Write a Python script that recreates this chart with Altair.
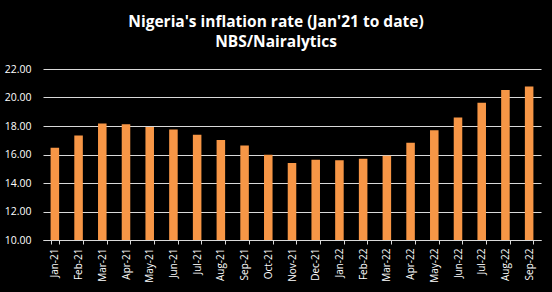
import altair as alt
import pandas as pd

months = ["Jan-21", "Feb-21", "Mar-21", "Apr-21", "May-21", "Jun-21", "Jul-21",
          "Aug-21", "Sep-21", "Oct-21", "Nov-21", "Dec-21", "Jan-22", "Feb-22",
          "Mar-22", "Apr-22", "May-22", "Jun-22", "Jul-22", "Aug-22", "Sep-22"]
inflation = [16.47, 17.33, 18.17, 18.12, 17.93, 17.75, 17.38, 17.01, 16.63, 15.99,
             15.40, 15.63, 15.60, 15.70, 15.92, 16.82, 17.71, 18.60, 19.64, 20.52, 20.77]
y_ticks = [10, 12, 14, 16, 18, 20, 22]

df = pd.DataFrame({"month": months, "rate": inflation})

font = "Open Sans"

chart = (
    alt.Chart(df)
    .mark_bar(color="#F79646", clip=True)
    .encode(
        x=alt.X("month:N", sort=months, title=None,
                scale=alt.Scale(paddingInner=0.64, paddingOuter=0.32),
                axis=alt.Axis(labelAngle=-90, labelFont=font, labelFontSize=10,
                              labelColor="#FFFFFF", labelPadding=4,
                              domainColor="#D9D9D9", tickColor="#D9D9D9",
                              tickBand="extent", tickSize=4, grid=False)),
        y=alt.Y("rate:Q", title=None,
                scale=alt.Scale(domain=[10, 22], nice=False, zero=False),
                axis=alt.Axis(values=y_ticks, format=".2f", labelFont=font,
                              labelFontSize=10.5, labelColor="#FFFFFF",
                              labelPadding=12, domain=False, ticks=False,
                              gridColor="#D9D9D9", gridWidth=1.2)),
    )
    .properties(
        width=498,
        height=171,
        background="#000000",
        autosize=alt.AutoSizeParams(type="none"),
        padding={"left": 43, "top": 69, "right": 11, "bottom": 52},
        title=alt.TitleParams(
            text=["Nigeria's inflation rate (Jan'21 to date)", "NBS/Nairalytics"],
            font=font, fontSize=15.5, fontWeight="bold", color="#FFFFFF",
            anchor="middle", dx=-16, offset=14, lineHeight=20,
        ),
    )
    .configure_view(stroke=None)
)

chart.save("out.html", embed_options={"renderer": "svg", "actions": False})
